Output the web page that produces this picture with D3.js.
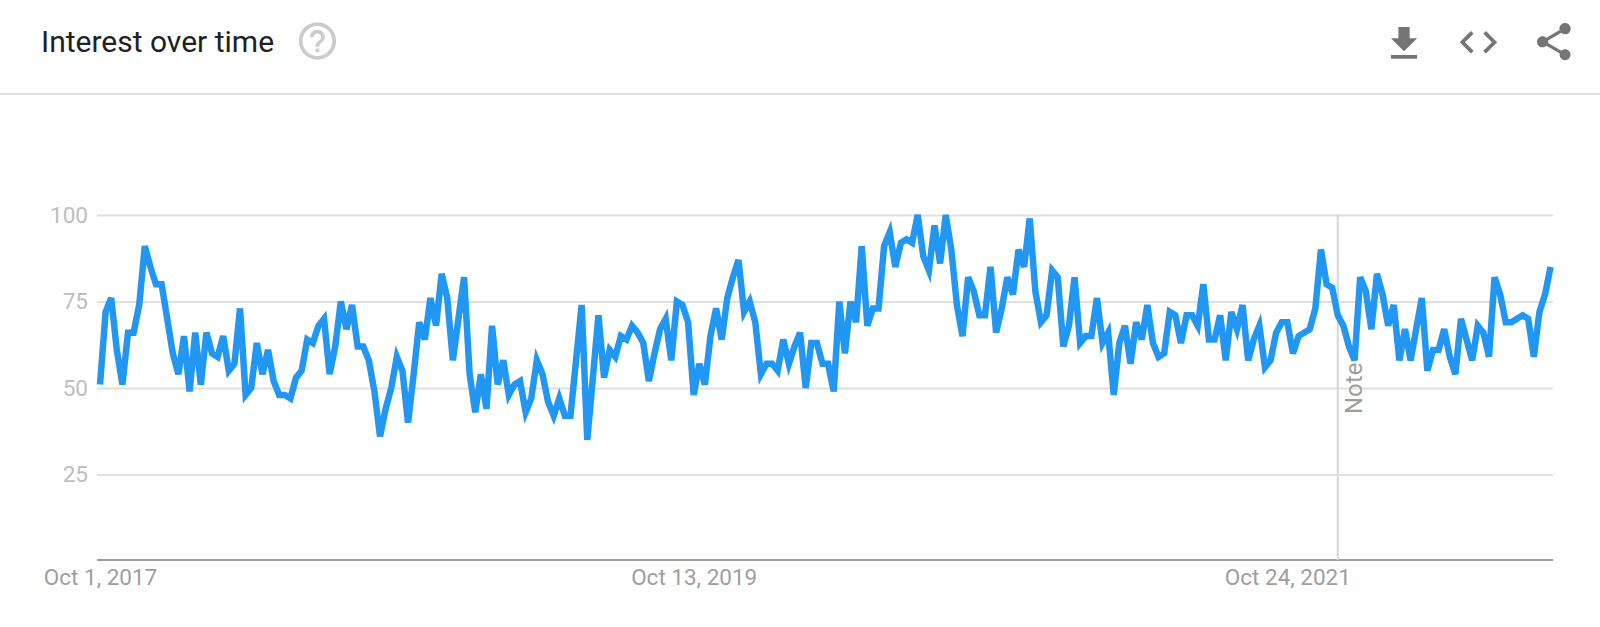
<!DOCTYPE html>
<html>
<head>
<meta charset="utf-8">
<script src="https://cdn.jsdelivr.net/npm/d3@7"></script>
<style>
  html, body { margin: 0; padding: 0; background: #fff; }
  svg { display: block; font-family: Roboto, sans-serif; }
</style>
</head>
<body>
<div id="chart"></div>
<script>
var width = 1600;
var height = 627;

// weekly interest values
var interest = [
  51, 72, 76, 61, 51, 66, 66, 74, 91, 85, 80, 80, 70, 60, 54, 65, 49, 66, 51, 66,
  60, 59, 65, 55, 57, 73, 48, 50, 63, 54, 61, 52, 48, 48, 47, 53, 55, 64, 63, 68,
  70, 54, 62, 75, 67, 74, 62, 62, 58, 49, 36, 44, 50, 59, 55, 40, 54, 69, 64, 76,
  68, 83, 76, 58, 70, 82, 54, 43, 54, 44, 68, 51, 58, 48, 51, 52, 43, 47, 58, 54,
  46, 42, 47, 42, 42, 58, 74, 35, 53, 71, 53, 61, 59, 65, 64, 68, 66, 63, 52, 60,
  67, 70, 58, 75, 74, 69, 48, 57, 51, 65, 73, 64, 76, 82, 87, 72, 75, 69, 54, 57,
  57, 55, 64, 57, 62, 66, 50, 63, 63, 57, 57, 49, 75, 60, 75, 69, 91, 68, 73, 73,
  91, 95, 85, 92, 93, 92, 100, 88, 84, 97, 86, 100, 90, 74, 65, 82, 78, 71, 71, 85,
  66, 73, 82, 77, 90, 85, 99, 78, 69, 71, 84, 82, 62, 68, 82, 63, 65, 65, 76, 63,
  66, 48, 63, 68, 57, 69, 64, 74, 63, 59, 60, 72, 71, 63, 71, 71, 68, 80, 64, 64,
  71, 58, 72, 67, 74, 58, 64, 68, 56, 58, 66, 69, 69, 60, 65, 66, 67, 73, 90, 80,
  79, 71, 68, 62, 58, 82, 78, 67, 83, 77, 68, 74, 58, 67, 58, 67, 76, 55, 61, 61,
  67, 59, 54, 70, 64, 58, 68, 66, 59, 82, 77, 69, 69, 70, 71, 70, 59, 72, 77, 85
];

var yTicks = [25, 50, 75, 100];
var xTickWeeks = [0, 106, 212];
var xTickLabels = ['Oct 1, 2017', 'Oct 13, 2019', 'Oct 24, 2021'];
var noteWeek = [221];
var noteLabel = 'Note';

var svg = d3.select('#chart')
  .append('svg')
  .attr('width', width)
  .attr('height', height);

// 顶部标题栏
svg.append('text')
  .attr('x', 41)
  .attr('y', 52)
  .style('font-size', '30px')
  .style('fill', '#212121')
  .text('Interest over time');

svg.append('line')
  .attr('x1', 0)
  .attr('x2', width)
  .attr('y1', 94)
  .attr('y2', 94)
  .style('stroke', '#e0e0e0')
  .style('stroke-width', 2);

var iconScale = 1.87;
var icons = [
  { x: 295, y: 18.6, fill: '#cccccc', d: 'M11 18h2v-2h-2v2zm1-16C6.48 2 2 6.48 2 12s4.48 10 10 10 10-4.48 10-10S17.52 2 12 2zm0 18c-4.41 0-8-3.59-8-8s3.59-8 8-8 8 3.59 8 8-3.59 8-8 8zm0-14c-2.21 0-4 1.79-4 4h2c0-1.1.9-2 2-2s2 .9 2 2c0 2-3 1.75-3 5h2c0-2.25 3-2.5 3-5 0-2.21-1.79-4-4-4z' },
  { x: 1381.6, y: 21.4, fill: '#757575', d: 'M19 9h-4V3H9v6H5l7 7 7-7zM5 18v2h14v-2H5z' },
  { x: 1456, y: 19.8, fill: '#757575', d: 'M9.4 16.6L4.8 12l4.6-4.6L8 6l-6 6 6 6 1.4-1.4zm5.2 0l4.6-4.6-4.6-4.6L16 6l6 6-6 6-1.4-1.4z' },
  { x: 1531.4, y: 19.3, fill: '#757575', d: 'M18 16.08c-.76 0-1.44.3-1.96.77L8.91 12.7c.05-.23.09-.46.09-.7s-.04-.47-.09-.7l7.05-4.11c.54.5 1.25.81 2.04.81 1.66 0 3-1.34 3-3s-1.34-3-3-3-3 1.34-3 3c0 .24.04.47.09.7L8.04 9.81C7.5 9.31 6.79 9 6 9c-1.66 0-3 1.34-3 3s1.34 3 3 3c.79 0 1.5-.31 2.04-.81l7.12 4.16c-.05.21-.08.43-.08.65 0 1.61 1.31 2.92 2.92 2.92 1.61 0 2.92-1.31 2.92-2.92s-1.31-2.92-2.92-2.92z' }
];

svg.selectAll('path.icon')
  .data(icons)
  .enter()
  .append('path')
  .attr('class', 'icon')
  .attr('transform', d => 'translate(' + d.x + ',' + d.y + ') scale(' + iconScale + ')')
  .attr('d', d => d.d)
  .style('fill', d => d.fill);

// 比例尺
var plotLeft = 97;
var plotRight = 1553;

var xScale = d3.scaleLinear()
  .domain([0, interest.length - 1])
  .range([100, 1550.6]);

var yScale = d3.scaleLinear()
  .domain([0, 100])
  .range([561, 215]);

// y axis, ticks stretched into gridlines
var yAxis = d3.axisLeft(yScale)
  .tickValues(yTicks)
  .tickSize(-(plotRight - plotLeft))
  .tickPadding(9);

var yG = svg.append('g')
  .attr('transform', 'translate(' + plotLeft + ',0)')
  .call(yAxis);

yG.select('.domain').remove();
yG.selectAll('line')
  .style('stroke', '#e0e0e0')
  .style('stroke-width', 2);
yG.selectAll('text')
  .style('font-size', '22.5px')
  .style('font-family', 'Roboto, sans-serif')
  .style('fill', '#bdbdbd');

// x axis
var xAxis = d3.axisBottom(xScale)
  .tickValues(xTickWeeks)
  .tickFormat((d, i) => xTickLabels[i])
  .tickSize(0)
  .tickPadding(9);

var xG = svg.append('g')
  .attr('transform', 'translate(0,560)')
  .call(xAxis);

xG.select('.domain').remove();
xG.selectAll('text')
  .style('font-size', '22.5px')
  .style('font-family', 'Roboto, sans-serif')
  .style('fill', '#9e9e9e');

svg.append('line')
  .attr('x1', plotLeft)
  .attr('x2', plotRight)
  .attr('y1', 560)
  .attr('y2', 560)
  .style('stroke', '#9e9e9e')
  .style('stroke-width', 2);

// note marker
svg.selectAll('line.note')
  .data(noteWeek)
  .enter()
  .append('line')
  .attr('class', 'note')
  .attr('x1', d => xScale(d))
  .attr('x2', d => xScale(d))
  .attr('y1', yScale(100))
  .attr('y2', 560)
  .style('stroke', '#d6d6d6')
  .style('stroke-width', 2);

svg.selectAll('text.note')
  .data(noteWeek)
  .enter()
  .append('text')
  .attr('class', 'note')
  .attr('transform', d => 'translate(' + (xScale(d) + 24) + ',414) rotate(-90)')
  .style('font-size', '24px')
  .style('fill', '#9e9e9e')
  .text(noteLabel);

var line = d3.line()
  .x((d, i) => xScale(i))
  .y(d => yScale(d));

svg.append('path')
  .datum(interest)
  .attr('d', line)
  .style('fill', 'none')
  .style('stroke', '#2196f3')
  .style('stroke-width', 6.5);
</script>
</body>
</html>
